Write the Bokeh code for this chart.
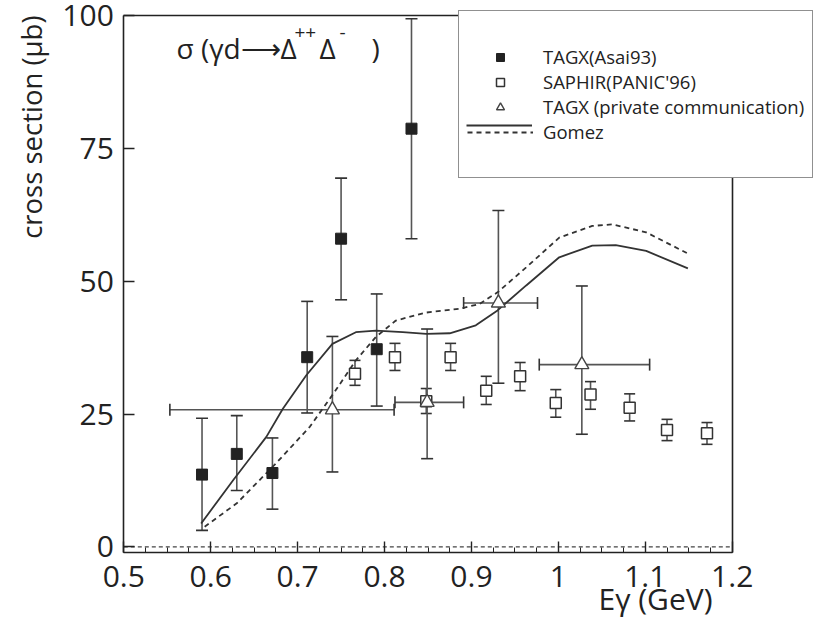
import math
import numpy as np
from bokeh.plotting import figure
from bokeh.models import (ColumnDataSource, Whisker, TeeHead, Legend, LegendItem,
                          Label, FixedTicker, LinearAxis, Range1d)
from bokeh.embed import file_html
from bokeh.resources import INLINE

# ---- data ----
asai_x = [0.590, 0.630, 0.671, 0.711, 0.750, 0.791, 0.831]
asai_y = [13.6, 17.5, 13.9, 35.7, 58.0, 37.2, 78.7]
asai_hi = [24.2, 24.7, 20.5, 46.2, 69.4, 47.6, 99.4]
asai_lo = [3.1, 10.6, 7.1, 25.2, 46.5, 26.5, 58.0]

saphir_x = [0.766, 0.812, 0.848, 0.876, 0.917, 0.956, 0.997, 1.037, 1.082, 1.125, 1.171]
saphir_y = [32.6, 35.7, 27.4, 35.7, 29.4, 32.1, 27.1, 28.7, 26.2, 22.0, 21.4]
saphir_hi = [35.1, 38.3, 29.8, 38.3, 32.1, 34.7, 29.6, 31.1, 28.8, 24.0, 23.4]
saphir_lo = [30.4, 33.2, 25.1, 33.2, 26.8, 29.4, 24.4, 25.9, 23.7, 20.0, 19.3]

priv_x = [0.740, 0.849, 0.931, 1.027]
priv_y = [25.8, 27.2, 45.9, 34.3]
priv_xlo = [0.553, 0.812, 0.891, 0.978]
priv_xhi = [0.811, 0.891, 0.976, 1.105]
priv_hi = [39.6, 41.0, 63.3, 49.1]
priv_lo = [14.1, 16.6, 30.8, 21.2]

solid_x = [0.589, 0.626, 0.664, 0.683, 0.710, 0.740, 0.767, 0.790, 0.821, 0.848,
           0.875, 0.905, 0.930, 0.963, 1.001, 1.039, 1.066, 1.101, 1.149]
solid_y = [4.4, 12.6, 20.7, 26.0, 32.3, 38.2, 40.4, 40.7, 40.4, 40.1,
           40.2, 41.7, 44.5, 49.2, 54.5, 56.7, 56.8, 55.7, 52.4]

dash_x = [0.593, 0.630, 0.675, 0.714, 0.741, 0.767, 0.790, 0.813, 0.848, 0.886,
          0.909, 0.930, 0.963, 1.001, 1.039, 1.062, 1.101, 1.149]
dash_y = [3.8, 8.2, 15.7, 22.6, 28.8, 35.1, 39.5, 42.6, 44.1, 44.8,
          45.7, 47.9, 52.6, 58.2, 60.4, 60.7, 59.2, 55.2]

x_ticks = [0.5, 0.6, 0.7, 0.8, 0.9, 1.0, 1.1, 1.2]
x_tick_labels = ["0.5", "0.6", "0.7", "0.8", "0.9", "1", "1.1", "1.2"]
y_ticks = [0, 25, 50, 75, 100]
y_tick_labels = ["0", "25", "50", "75", "100"]
x_lim = (0.5, 1.2)
y_lim = (-1, 100)
zero_level = 0

# title pieces: main text, superscript, main, superscript, closing
title_parts = ["σ (γd⟶Δ", "++", "Δ", "-", ")"]
x_title = "Eγ (GeV)"
y_title = "cross section (μb)"
legend_labels = ["TAGX(Asai93)", "SAPHIR(PANIC'96)", "TAGX (private communication)", "Gomez"]

FONT = "Open Sans"
INK = "#222222"

# ---- layout: the frame fills the whole canvas; axes sit at fixed places ----
W, H = 818, 618
PX_LEFT, PX_RIGHT = 123.3, 731.7   # picture x of x_lim
PX_TOP, PX_BOTTOM = 15.0, 551.7    # picture y of y_lim
kx = (PX_RIGHT - PX_LEFT) / (x_lim[1] - x_lim[0])
ky = (PX_BOTTOM - PX_TOP) / (y_lim[1] - y_lim[0])
x0 = x_lim[0] - PX_LEFT / kx
y1 = y_lim[1] + PX_TOP / ky


def fy(py):  # picture y -> frame screen y (from bottom)
    return H - py


p = figure(width=W, height=H, output_backend="svg", toolbar_location=None,
           x_range=Range1d(x0, x0 + W / kx), y_range=Range1d(y1 - H / ky, y1),
           min_border=0, x_axis_location=None, y_axis_location=None)
p.xgrid.visible = False
p.ygrid.visible = False
p.outline_line_color = None
p.background_fill_color = "white"
p.border_fill_color = "white"

xaxis = LinearAxis(fixed_location=y_lim[0], bounds=x_lim,
                   ticker=FixedTicker(ticks=x_ticks,
                                      minor_ticks=[round(v, 3) for v in np.arange(0.5, 1.2001, 0.025)]),
                   major_label_overrides=dict(zip(x_ticks, x_tick_labels)),
                   major_label_standoff=14)
yaxis = LinearAxis(fixed_location=x_lim[0], bounds=y_lim,
                   ticker=FixedTicker(ticks=y_ticks),
                   major_label_overrides=dict(zip(y_ticks, y_tick_labels)),
                   major_label_standoff=10, minor_tick_line_color=None)
for ax in (xaxis, yaxis):
    ax.axis_line_color = INK
    ax.axis_line_width = 1.6
    ax.major_tick_in = 11
    ax.major_tick_out = 0
    ax.major_tick_line_color = INK
    ax.major_tick_line_width = 1.4
    ax.minor_tick_in = 5
    ax.minor_tick_out = 0
    ax.major_label_text_font = FONT
    ax.major_label_text_font_size = "30px"
    ax.major_label_text_color = INK
xaxis.minor_tick_line_color = INK
p.add_layout(xaxis, "below")
p.add_layout(yaxis, "left")

# top and right edges of the box
for side, loc, bnd in (("above", y_lim[1], x_lim), ("right", x_lim[1], y_lim)):
    edge = LinearAxis(fixed_location=loc, bounds=bnd, ticker=FixedTicker(ticks=[]),
                      axis_line_color=INK, axis_line_width=1.6,
                      major_tick_line_color=None, minor_tick_line_color=None,
                      major_label_text_font_size="0px")
    p.add_layout(edge, side)

# zero reference line
p.line(x_lim, [zero_level, zero_level], line_color="#444444", line_width=1.2, line_dash="4 3")

# curves
r_solid = p.line(solid_x, solid_y, line_color="#333333", line_width=1.8)
r_dash = p.line(dash_x, dash_y, line_color="#333333", line_width=1.8, line_dash="5 4")
r_blank = p.line(solid_x, solid_y, line_alpha=0)

# error bars
asai_src = ColumnDataSource(dict(x=asai_x, y=asai_y, hi=asai_hi, lo=asai_lo))
saphir_src = ColumnDataSource(dict(x=saphir_x, y=saphir_y, hi=saphir_hi, lo=saphir_lo))
priv_src = ColumnDataSource(dict(x=priv_x, y=priv_y, hi=priv_hi, lo=priv_lo,
                                 xhi=priv_xhi, xlo=priv_xlo))


def tee(size):
    return TeeHead(size=size, line_color="#333333", line_width=1.6)


for src, cap in ((asai_src, 12), (saphir_src, 11), (priv_src, 12)):
    p.add_layout(Whisker(base="x", upper="hi", lower="lo", source=src, dimension="height",
                         line_color="#555555", line_width=1.6, level="underlay",
                         upper_head=tee(cap), lower_head=tee(cap)))
p.add_layout(Whisker(base="y", upper="xhi", lower="xlo", source=priv_src, dimension="width",
                     line_color="#555555", line_width=1.6, level="underlay",
                     upper_head=tee(12), lower_head=tee(12)))

# markers
r_asai = p.scatter("x", "y", source=asai_src, marker="square", size=11,
                   fill_color=INK, line_color=INK)
r_saphir = p.scatter("x", "y", source=saphir_src, marker="square", size=11,
                     fill_color="white", line_color="#333333", line_width=1.5)
r_priv = p.scatter("x", "y", source=priv_src, marker="triangle", size=14,
                   fill_color="white", line_color="#444444", line_width=1.4)

# legend (box with a blank first and last row for the padding seen in the picture)
legend = Legend(items=[
    LegendItem(label=" ", renderers=[r_blank]),
    LegendItem(label=legend_labels[0], renderers=[r_asai]),
    LegendItem(label=legend_labels[1], renderers=[r_saphir]),
    LegendItem(label=legend_labels[2], renderers=[r_priv]),
    LegendItem(label=legend_labels[3], renderers=[r_dash]),
    LegendItem(label=" ", renderers=[r_blank]),
], location=(458, fy(178)), padding=8, spacing=0, margin=0,
    glyph_width=66, glyph_height=20, label_height=25, label_standoff=10,
    label_text_font=FONT, label_text_font_size="18.5px", label_text_color=INK,
    border_line_color=INK, border_line_width=1.6,
    background_fill_color="white", background_fill_alpha=1.0)
p.add_layout(legend)

legend2 = Legend(items=[LegendItem(label=" ", renderers=[r_solid])],
                 location=(466, fy(125) - 4), padding=0, spacing=0, margin=0,
                 glyph_width=66, glyph_height=8, label_height=8, label_standoff=0,
                 label_text_font_size="1px", border_line_color=None,
                 background_fill_alpha=0)
p.add_layout(legend2)

# title
for txt, px, py, size in ((title_parts[0], 176, 47, "28px"), (title_parts[1], 294, 32, "19px"),
                          (title_parts[2], 319, 47, "28px"), (title_parts[3], 339, 32, "19px"),
                          (title_parts[4], 371, 47, "28px")):
    p.add_layout(Label(x=px, y=fy(py), x_units="screen", y_units="screen", text=txt,
                       text_font=FONT, text_font_size=size, text_color=INK,
                       text_baseline="middle"))

# axis titles
p.add_layout(Label(x=31, y=fy(15), x_units="screen", y_units="screen", text=y_title,
                   angle=math.pi / 2, text_align="right", text_baseline="middle",
                   text_font=FONT, text_font_size="27.5px", text_color=INK))
p.add_layout(Label(x=712, y=fy(598), x_units="screen", y_units="screen", text=x_title,
                   text_align="right", text_baseline="middle",
                   text_font=FONT, text_font_size="30px", text_color=INK))

open("out.html", "w").write(file_html(p, INLINE))
